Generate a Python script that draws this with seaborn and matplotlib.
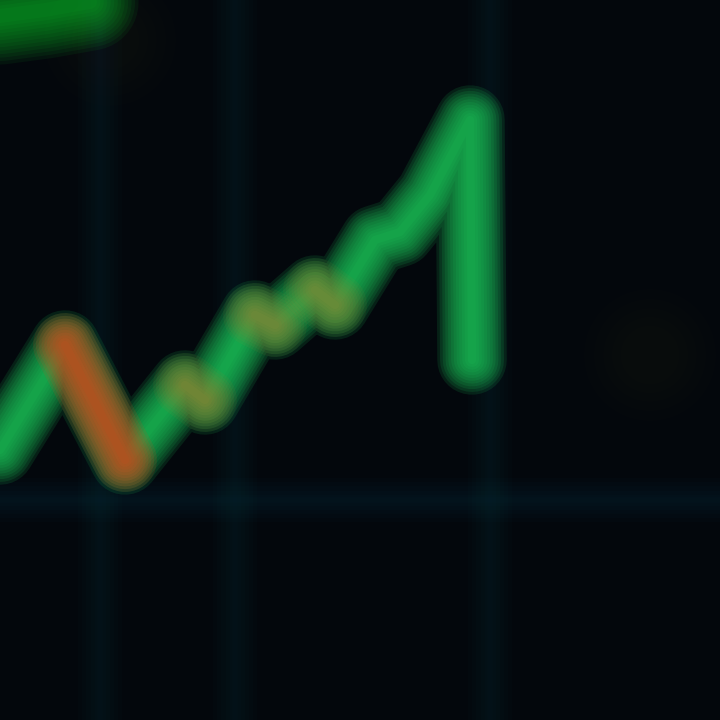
import matplotlib
matplotlib.use("Agg")
import matplotlib.pyplot as plt
import seaborn as sns

# --- data (time index vs price) ---
times  = [0, 65, 125, 185, 205, 255, 275, 315, 335, 375, 400, 430, 470, 472]
prices = [27.0, 37.5, 26.0, 33.5, 32.0, 40.5, 39.5, 43.0, 41.5, 48.0, 48.8, 52.5, 60.0, 36.0]
# colour of each move: None = green up move, otherwise down move colour
seg_colors = [None, "#d2441a", None, "#b8762c", None, "#b07c30",
              None, "#a88030", None, None, None, None, None]
green = "#1ccc5c"
# faint second line at top-left
top_times  = [0, 45, 90]
top_prices = [70.4, 71.0, 71.8]
# blurred grid positions
grid_x = [100, 235, 490]
grid_y = [22.0]
# dim blurred dots
dot_times  = [110, 650]
dot_prices = [68.0, 36.5]

sns.set_theme(style="dark")
bg = "#03070c"
fig = plt.figure(figsize=(7.2, 7.2), dpi=100, facecolor=bg)
ax = fig.add_axes([0, 0, 1, 1])
ax.set_facecolor(bg)
ax.set_xlim(0, 720)
ax.set_ylim(0, 72)
ax.axis("off")

# blurred grid
for gx in grid_x:
    for lw in [32, 26, 20, 14, 8, 4]:
        ax.axvline(gx, color="#123645", lw=lw, alpha=0.05, zorder=0)
for gy in grid_y:
    for lw in [32, 26, 20, 14, 8, 4]:
        ax.axhline(gy, color="#14394a", lw=lw, alpha=0.06, zorder=0)

# dim dots
for t, p in zip(dot_times, dot_prices):
    for s in [9000, 6500, 4500, 3000, 1800]:
        ax.scatter([t], [p], s=s, color="#3a2a20", alpha=0.035, edgecolor="none", zorder=1)

# top-left green glow
for lw in range(70, 6, -5):
    sns.lineplot(x=top_times, y=top_prices, ax=ax, color="#12c02a", lw=lw, alpha=0.075,
                 solid_capstyle="round", legend=False, sort=False)

# main line with glow: continuous green body
for lw in range(50, 4, -4):
    sns.lineplot(x=times, y=prices, ax=ax, color=green, lw=lw, alpha=0.13,
                 solid_capstyle="round", solid_joinstyle="round", legend=False, sort=False)
# coloured down moves on top, soft (the big drop is strongest)
for lw in range(46, 4, -4):
    for i in range(len(times) - 1):
        c = seg_colors[i]
        if c is None:
            continue
        a = 0.14 if i == 1 else 0.075
        sns.lineplot(x=[times[i], times[i + 1]], y=[prices[i], prices[i + 1]], ax=ax,
                     color=c, lw=lw, alpha=a, solid_capstyle="round",
                     legend=False, sort=False)

fig.savefig("out.png", dpi=100, facecolor=bg)
